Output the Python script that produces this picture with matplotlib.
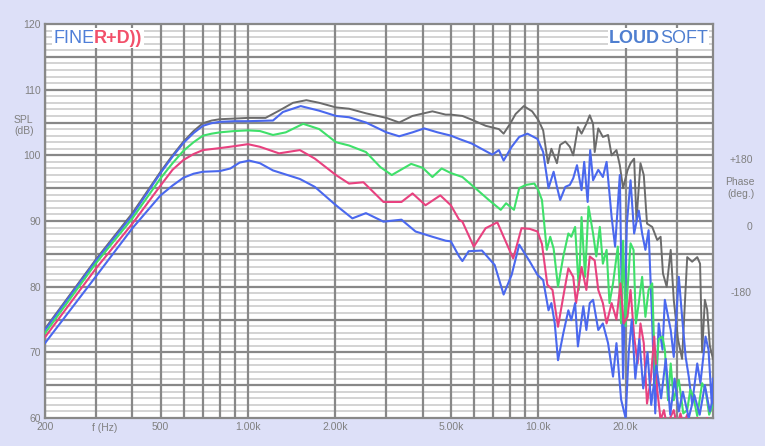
import matplotlib
matplotlib.use("Agg")
from matplotlib import pyplot as plt
from matplotlib.ticker import FixedLocator, NullFormatter

plt.rcParams['font.family'] = ['Liberation Sans', 'DejaVu Sans']

# frequency response curves (Hz, dB SPL)
f_gray = [200, 300, 400, 500, 550, 600, 650, 700, 750, 800, 900, 1000, 1150, 1280, 1430, 1590,
          1760, 2010, 2230, 2550, 3000, 3320, 3690, 4320, 4800, 5000, 5480, 6000, 6590, 7320,
          7600, 8000, 8360, 8920, 9530, 10000, 10400, 10800, 11100, 11600, 11900, 12400, 12850,
          13200, 13700, 14100, 14650, 15050, 15450, 15650, 16100, 16700, 17400, 17900, 18600,
          19100, 19600, 20300, 20800, 21400, 21800, 22500, 23100, 23700, 24700, 25700, 26400,
          26900, 27700, 28600, 29300, 30300, 31300, 32600, 33900, 35300, 36100, 36700, 37500,
          38200, 39000, 40000]
spl_gray = [73.6, 84.2, 91.2, 97.5, 100.0, 102.1, 103.7, 104.9, 105.3, 105.5, 105.6, 105.7, 105.7,
            106.8, 108.0, 108.4, 108.0, 107.3, 107.1, 106.4, 105.7, 105.0, 106.0, 106.7, 106.2,
            106.2, 106.0, 105.3, 104.5, 104.0, 103.3, 104.8, 106.3, 107.5, 106.7, 105.4, 103.8,
            98.8, 101.0, 98.8, 101.6, 102.1, 101.3, 100.0, 104.3, 103.3, 104.8, 106.1, 104.8,
            100.5, 104.1, 102.8, 103.1, 100.0, 100.8, 98.5, 95.0, 97.7, 98.8, 99.5, 90.1, 98.8,
            97.0, 89.6, 89.1, 87.1, 87.6, 82.0, 80.0, 85.6, 78.0, 72.0, 69.0, 84.5, 83.8, 84.5,
            83.5, 70.0, 78.0, 76.5, 71.0, 69.0]

f_blue1 = [200, 300, 400, 500, 550, 600, 650, 700, 750, 800, 900, 1000, 1220, 1320, 1520, 1760,
           2010, 2230, 2550, 3000, 3320, 3690, 4050, 4500, 5000, 5340, 5900, 6950, 7320, 7600,
           8100, 8600, 9180, 9940, 10400, 10850, 11300, 11600, 11900, 12400, 12850, 13200, 13600,
           14100, 14400, 14800, 15100, 15450, 16100, 16700, 17200, 17900, 18400, 19100, 19600,
           20200, 20800, 21400, 22200, 22800, 23400, 24000, 24700, 25300, 26000, 26800, 27300,
           28600, 29300, 30500, 31300, 32200, 33000, 33900, 35300, 36200, 37700, 38600, 39600,
           40000]
spl_blue1 = [73.4, 84.0, 90.9, 97.3, 99.8, 101.9, 103.4, 104.5, 104.9, 105.1, 105.2, 105.2, 105.3,
             106.6, 107.5, 106.8, 106.0, 105.8, 105.0, 103.5, 102.9, 103.5, 104.1, 103.5, 103.0,
             102.5, 101.8, 100.1, 100.8, 99.2, 101.3, 102.8, 103.3, 102.5, 100.5, 95.0, 97.5,
             95.2, 93.2, 95.2, 95.5, 96.5, 98.5, 94.7, 99.0, 92.9, 100.8, 96.2, 97.8, 96.7, 99.0,
             90.6, 86.1, 97.0, 66.0, 89.6, 96.2, 88.1, 91.6, 88.1, 85.6, 88.6, 74.4, 60.7, 74.4,
             70.4, 78.0, 73.4, 69.3, 81.5, 75.4, 69.3, 66.3, 62.2, 68.3, 65.3, 72.4, 70.4, 62.2,
             66.0]

f_green = [200, 300, 400, 500, 550, 600, 650, 700, 750, 800, 900, 1000, 1100, 1220, 1350, 1550,
           1760, 2010, 2230, 2550, 2860, 3130, 3650, 4000, 4320, 4650, 5000, 5480, 6000, 6760,
           7430, 7750, 8250, 8600, 9070, 9700, 10000, 10300, 10700, 11000, 11300, 11700, 12200,
           12700, 13000, 13400, 13800, 14100, 14500, 14900, 15450, 15850, 16300, 16700, 17200,
           17600, 18100, 18800, 19300, 19600, 20000, 20300, 20800, 21300, 21700, 22200, 22800,
           23400, 24000, 24700, 25300, 26000, 26800, 27300, 28000, 28600, 29300, 30500, 31600,
           32600, 33400, 34200, 35300, 36700, 37700, 38800, 40000]
spl_green = [72.9, 83.6, 90.4, 96.5, 98.8, 100.7, 102.0, 103.0, 103.3, 103.5, 103.7, 103.8, 103.7,
             103.1, 103.5, 104.8, 104.0, 102.0, 101.5, 100.5, 98.2, 97.0, 98.7, 98.1, 96.7, 98.0,
             97.3, 96.7, 95.2, 93.2, 91.7, 92.7, 91.7, 95.0, 95.5, 95.7, 94.7, 93.2, 85.6, 87.6,
             85.8, 80.0, 84.6, 88.1, 87.6, 89.1, 79.5, 90.6, 81.5, 92.2, 88.1, 84.6, 89.1, 83.5,
             85.6, 77.5, 80.5, 86.1, 74.4, 87.0, 74.0, 79.5, 86.6, 85.6, 74.4, 77.5, 81.5, 75.4,
             79.5, 80.5, 65.3, 72.0, 72.4, 70.4, 62.7, 68.3, 62.7, 65.8, 60.7, 61.2, 64.3, 63.3,
             60.3, 65.3, 64.3, 60.5, 62.0]

f_pink = [200, 300, 400, 500, 550, 600, 650, 700, 800, 900, 1000, 1100, 1280, 1510, 1700, 2010,
          2230, 2500, 2930, 3380, 3690, 4090, 4600, 5000, 5340, 5480, 6000, 6590, 7230, 7600,
          8200, 8760, 9360, 9940, 10300, 10750, 11200, 11700, 12200, 12700, 13200, 13500, 14100,
          14650, 15050, 15650, 16100, 16700, 17200, 17900, 18600, 19200, 19700, 20300, 20800,
          21400, 22000, 22500, 23100, 23700, 24400, 25100, 25700, 26400, 27100, 27800, 28600,
          29300, 30100, 30900, 31600, 32600, 33900, 35300, 36700, 38200, 39700, 40000]
spl_pink = [72.3, 82.8, 89.6, 95.4, 97.8, 99.3, 100.2, 100.8, 101.1, 101.4, 101.7, 101.3, 100.3,
            100.8, 99.5, 97.0, 95.7, 95.9, 92.9, 92.9, 94.2, 92.4, 93.9, 92.4, 90.2, 89.9, 86.1,
            88.9, 89.8, 87.6, 84.3, 88.9, 88.8, 88.4, 86.5, 80.3, 79.5, 73.9, 78.5, 82.8, 81.5,
            77.5, 83.0, 79.5, 84.6, 84.0, 79.5, 77.5, 74.4, 77.5, 75.0, 80.5, 74.4, 75.4, 79.5,
            72.4, 68.3, 74.4, 71.4, 62.2, 65.8, 72.4, 64.3, 59.7, 61.2, 58.7, 60.2, 61.2, 58.7,
            60.7, 59.0, 60.5, 58.5, 60.0, 58.5, 60.0, 58.5, 59.0]

f_blue2 = [200, 300, 400, 500, 550, 600, 650, 700, 800, 870, 937, 1010, 1100, 1220, 1510, 1700,
           2010, 2290, 2550, 2930, 3380, 3780, 4320, 4800, 5000, 5340, 5480, 5760, 6400, 7080,
           7600, 8100, 8600, 9360, 9940, 10400, 10850, 11100, 11400, 11700, 12200, 12700, 13000,
           13400, 13700, 14300, 14650, 15050, 15450, 16100, 16700, 17400, 18100, 18600, 19300,
           20000, 20500, 21000, 21600, 22300, 23000, 23800, 24500, 25500, 26500, 27500, 28500,
           29500, 30500, 31500, 33000, 34500, 36000, 37500, 39000, 40000]
spl_blue2 = [71.4, 81.6, 88.9, 93.9, 95.4, 96.6, 97.2, 97.5, 97.6, 98.0, 98.9, 99.2, 98.8, 97.7,
             96.4, 95.2, 92.4, 90.4, 91.2, 89.9, 90.2, 88.4, 87.6, 87.0, 86.9, 84.6, 83.9, 85.4,
             85.5, 83.3, 78.8, 81.8, 86.4, 83.8, 81.8, 81.0, 76.4, 77.5, 74.4, 68.8, 72.9, 76.4,
             74.9, 77.5, 70.9, 77.0, 73.4, 77.5, 78.0, 73.4, 74.4, 71.4, 66.3, 71.4, 62.8, 60.0,
             70.0, 75.0, 66.0, 72.0, 64.5, 70.0, 62.0, 68.0, 63.0, 69.0, 60.5, 66.0, 61.0, 64.0,
             60.0, 63.5, 60.5, 65.0, 61.0, 63.0]

x_labels = ['200', '500', '1.00k', '2.00k', '5.00k', '10.0k', '20.0k']
x_label_pos = [200, 500, 1000, 2000, 5000, 10000, 20000]
x_grid = [200, 300, 400, 500, 600, 700, 800, 900, 1000, 2000, 3000, 4000, 5000, 6000, 7000,
          8000, 9000, 10000, 20000, 30000]

fig = plt.figure(figsize=(7.65, 4.46), dpi=100)
fig.patch.set_facecolor('#dde0f8')
ax = fig.add_axes([45 / 765, 28 / 446, 668 / 765, 394 / 446])
ax.set_facecolor('white')

ax.set_xscale('log')
ax.set_xlim(200, 40000)
ax.set_ylim(60, 120)

# grid
for f in x_grid:
    ax.axvline(f, color='#888888', lw=1.6, zorder=1)
for db in range(61, 120):
    if db % 5:
        ax.axhline(db, color='#c8c8c8', lw=1.1, zorder=0.5)
    else:
        ax.axhline(db, color='#888888', lw=1.6, zorder=1)

ax.xaxis.set_major_locator(FixedLocator(x_label_pos))
ax.set_xticklabels(x_labels)
ax.xaxis.set_minor_formatter(NullFormatter())
ax.xaxis.set_minor_locator(FixedLocator([]))
ax.set_yticks(range(60, 121, 10))
ax.tick_params(length=0, labelsize=7.5, labelcolor='#808080', pad=3)
for s in ax.spines.values():
    s.set_color('#888888')
    s.set_linewidth(1.6)

ax.plot(f_gray, spl_gray, color='#6b6b6b', lw=1.4, zorder=3)
ax.plot(f_blue1, spl_blue1, color='#4a68ee', lw=1.5, zorder=3)
ax.plot(f_green, spl_green, color='#3fe06a', lw=1.5, zorder=3)
ax.plot(f_pink, spl_pink, color='#e8417f', lw=1.5, zorder=3)
ax.plot(f_blue2, spl_blue2, color='#4a68ee', lw=1.5, zorder=3)

ax.text(320, -0.012, 'f (Hz)', ha='center', va='top', fontsize=7.5, color='#808080',
        transform=ax.get_xaxis_transform(), clip_on=False)

# logos
t_fine = ax.text(0.012, 0.952, 'FINE', transform=ax.transAxes, color='#4f7fd8', fontsize=13,
                 va='baseline', ha='left', zorder=5,
                 bbox=dict(fc='white', ec='none', pad=1))
ax.annotate('R+D))', xy=(1, 0), xycoords=t_fine, color='#f2506a', fontsize=13, weight='bold',
            va='bottom', ha='left', zorder=5, bbox=dict(fc='white', ec='none', pad=1))
t_soft = ax.text(0.9925, 0.952, 'SOFT', transform=ax.transAxes, color='#4f7fd0', fontsize=13,
                 va='baseline', ha='right', zorder=5, bbox=dict(fc='white', ec='none', pad=1))
ax.annotate('LOUD', xy=(0, 0), xycoords=t_soft, color='#4f7fd0', fontsize=13, weight='bold',
            va='bottom', ha='right', zorder=5, bbox=dict(fc='white', ec='none', pad=1))

# axis captions
lab = dict(fontsize=7.5, color='#808080')
fig.text(14 / 765, 1 - 120 / 446, 'SPL', ha='left', va='center', **lab)
fig.text(14 / 765, 1 - 131 / 446, '(dB)', ha='left', va='center', **lab)
fig.text(753 / 765, 1 - 160 / 446, '+180', ha='right', va='center', **lab)
fig.text(755 / 765, 1 - 182 / 446, 'Phase', ha='right', va='center', **lab)
fig.text(755 / 765, 1 - 194 / 446, '(deg.)', ha='right', va='center', **lab)
fig.text(752 / 765, 1 - 227 / 446, '0', ha='right', va='center', **lab)
fig.text(752 / 765, 1 - 293 / 446, '-180', ha='right', va='center', **lab)

fig.savefig('out.png', dpi=100, facecolor=fig.get_facecolor())
